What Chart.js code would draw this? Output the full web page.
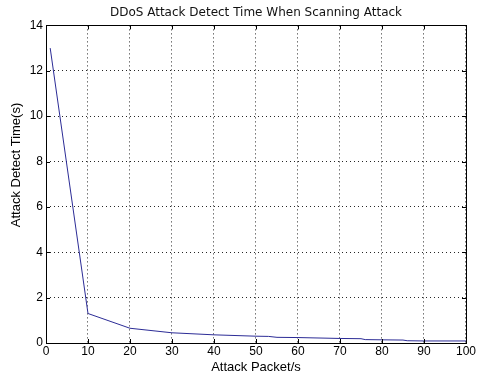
<!DOCTYPE html>
<html>
<head>
<meta charset="utf-8">
<script src="https://cdn.jsdelivr.net/npm/chart.js@4/dist/chart.umd.min.js"></script>
<style>
html,body{margin:0;padding:0;background:#fff;}
#wrap{width:477px;height:375px;}
</style>
</head>
<body>
<div id="wrap"><canvas id="c" width="477" height="375"></canvas></div>
<script>
const packetRate = [1, 10, 20, 30, 40, 50, 53, 55, 60, 70, 75, 76, 80, 85, 86, 90, 100];
const detectTime = [13.0, 1.3, 0.65, 0.45, 0.36, 0.3, 0.29, 0.25, 0.24, 0.2, 0.19, 0.15, 0.14, 0.13, 0.1, 0.09, 0.09];
const xTicks = [0, 10, 20, 30, 40, 50, 60, 70, 80, 90, 100];
const yTicks = [0, 2, 4, 6, 8, 10, 12, 14];
const titleText = 'DDoS Attack Detect Time When Scanning Attack';
const xTitle = 'Attack Packet/s';
const yTitle = 'Attack Detect Time(s)';

const FONT = 'Liberation Sans, Arial, sans-serif';

const boxPlugin = {
  id: 'box',
  afterDatasetsDraw(chart) {
    const {ctx, chartArea: a, scales} = chart;
    ctx.save();
    ctx.strokeStyle = '#000';
    ctx.lineWidth = 1;
    ctx.setLineDash([]);
    ctx.strokeRect(Math.round(a.left) + 0.5, Math.round(a.top) + 0.5,
      Math.round(a.right - a.left), Math.round(a.bottom - a.top));
    ctx.beginPath();
    xTicks.forEach(v => {
      const x = Math.round(scales.x.getPixelForValue(v)) + 0.5;
      ctx.moveTo(x, a.bottom); ctx.lineTo(x, a.bottom - 4);
      ctx.moveTo(x, a.top); ctx.lineTo(x, a.top + 4);
    });
    yTicks.forEach(v => {
      const y = Math.round(scales.y.getPixelForValue(v)) + 0.5;
      ctx.moveTo(a.left, y); ctx.lineTo(a.left + 4, y);
      ctx.moveTo(a.right, y); ctx.lineTo(a.right - 4, y);
    });
    ctx.stroke();
    ctx.translate(16, 165);
    ctx.rotate(-Math.PI / 2);
    ctx.fillStyle = '#000';
    ctx.font = '13px ' + FONT;
    ctx.textAlign = 'center';
    ctx.textBaseline = 'middle';
    ctx.fillText(yTitle, 0, 0);
    ctx.restore();
  }
};

new Chart(document.getElementById('c'), {
  type: 'line',
  data: {
    datasets: [{
      data: packetRate.map((x, i) => ({x: x, y: detectTime[i]})),
      borderColor: '#2c2c96',
      borderWidth: 1,
      pointRadius: 0,
      tension: 0,
      fill: false
    }]
  },
  options: {
    responsive: false,
    animation: false,
    devicePixelRatio: 1,
    layout: {padding: {left: 0, right: 10, top: 0, bottom: 0}},
    plugins: {
      legend: {display: false},
      tooltip: {enabled: false},
      title: {
        display: true,
        text: titleText,
        fullSize: false,
        color: '#111',
        font: {family: 'DejaVu Sans, sans-serif', size: 12, weight: 'normal'},
        padding: {top: 6, bottom: 5}
      }
    },
    scales: {
      x: {
        type: 'linear',
        min: 0, max: 100,
        afterBuildTicks(s) { s.ticks = xTicks.map(v => ({value: v})); },
        afterFit(s) { s.height = 32; },
        ticks: {color: '#000', font: {family: FONT, size: 12}, padding: 1, maxRotation: 0},
        grid: {color: 'rgba(0,0,0,0.85)', lineWidth: 1, drawTicks: false},
        border: {display: false, dash: [1, 3]},
        title: {display: true, text: xTitle, color: '#000', font: {family: FONT, size: 13}, padding: {top: 0, bottom: 0}}
      },
      y: {
        type: 'linear',
        min: 0, max: 14,
        afterBuildTicks(s) { s.ticks = yTicks.map(v => ({value: v})); },
        afterFit(s) { s.width = 46; },
        ticks: {color: '#000', font: {family: FONT, size: 12}, padding: 3},
        grid: {color: 'rgba(0,0,0,0.85)', lineWidth: 1, drawTicks: false},
        border: {display: false, dash: [1, 3]},
        title: {display: false}
      }
    }
  },
  plugins: [boxPlugin]
});
</script>
</body>
</html>
